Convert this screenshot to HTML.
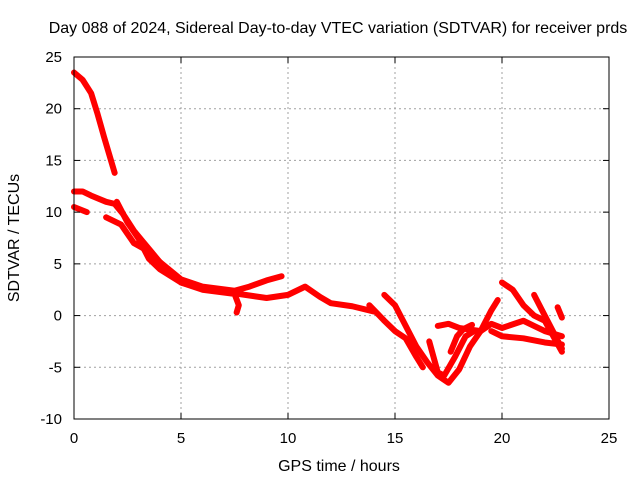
<!DOCTYPE html>
<html><head><meta charset="utf-8"><style>
body{margin:0;background:#fff;}
svg{display:block;font-family:"Liberation Sans",sans-serif;}
</style></head><body>
<svg id="chart" width="640" height="480">
<text x="338" y="33" font-size="16" text-anchor="middle">Day 088 of 2024, Sidereal Day-to-day VTEC variation (SDTVAR) for receiver prds</text>
<text x="339" y="471" font-size="16" text-anchor="middle">GPS time / hours</text>
<text transform="translate(19,238) rotate(-90)" font-size="16" text-anchor="middle">SDTVAR / TECUs</text>
<g id="grid"></g>
<g id="series"></g>
<rect x="74" y="57" width="535" height="362" fill="none" stroke="#000" stroke-width="1"/>
<g id="ticks"></g>
</svg>
<script>
const xTicks=[0,5,10,15,20,25];
const yTicks=[25,20,15,10,5,0,-5,-10];
const s1=[[0,23.5],[0.4,22.8],[0.8,21.5],[1.1,19.5],[1.4,17.3],[1.7,15.2],[1.9,13.8]];
const s2=[[0,12],[0.4,12],[0.8,11.6],[1.5,11],[1.9,10.8],[2.3,9.8],[2.8,8.2],[3.2,7.2],[3.6,6.2],[4,5.2],[4.5,4.2],[5,3.2],[6,2.6],[7,2.3],[8,2],[9,1.7],[10,2],[10.8,2.8],[11.5,1.8],[12,1.2],[13,0.9],[14,0.4]];
const s3=[[0,10.5],[0.6,10]];
const s4=[[1.5,9.5],[2.2,8.8],[2.8,7],[3.5,6.2],[4,5.2],[5,3.5],[6,2.8],[7.5,2.4],[8.2,2.8],[9,3.4],[9.7,3.8]];
const s5=[[2,11],[2.5,9],[3,7.5],[3.5,5.5],[4,4.5],[5,3.2],[6,2.5],[7.5,2.1],[7.7,1],[7.6,0.3]];
const s6=[[14.5,2],[15,1],[15.5,-1],[16,-3],[16.5,-4.5],[17,-5.8],[17.5,-6.5],[18,-5.2],[18.5,-3],[19,-1.5],[19.5,0.5],[19.8,1.5]];
const s7=[[17,-1],[17.5,-0.8],[18,-1.2],[19,-1.5],[19.5,-0.8],[20,-1.2],[21,-0.5],[21.5,-1],[22,-1.5],[22.8,-2]];
const s8=[[20,3.2],[20.5,2.5],[21,1],[21.5,0],[22,-0.5],[22.8,-3.5]];
const s9=[[21.5,2],[22,0],[22.5,-2],[22.8,-3.2]];
const s10=[[22.6,0.8],[22.8,-0.2]];
const s11=[[19.5,-1.5],[20,-2],[21,-2.2],[22,-2.6],[22.8,-2.8]];
const s12=[[13.8,1],[14.5,-0.5],[15,-1.5],[15.5,-2.2],[16,-4],[16.3,-5]];
const s13=[[16.6,-2.5],[16.8,-4],[17,-5.5],[17.3,-5.8],[17.8,-4],[18.3,-2],[18.7,-1.5]];
const s14=[[17.6,-3.5],[17.9,-2],[18.2,-1.3],[18.6,-0.9]];
const allSeries=[s1,s2,s3,s4,s5,s6,s7,s8,s9,s10,s11,s12,s13,s14];
const X=t=>74+t*535/25, Y=v=>57+(25-v)*362/35;
const NS="http://www.w3.org/2000/svg";
const grid=document.getElementById('grid'),ticks=document.getElementById('ticks'),ser=document.getElementById('series');
function mk(tag,at,parent){const e=document.createElementNS(NS,tag);for(const k in at)e.setAttribute(k,at[k]);parent.appendChild(e);return e;}
xTicks.forEach(t=>{
 if(t>0&&t<25){const g=mk('line',{x1:X(t),x2:X(t),y1:57,y2:419,stroke:'#a0a0a0','stroke-dasharray':'2,3'},grid);
 
 }
 const tk=mk('line',{x1:X(t),x2:X(t),y1:419,y2:413,stroke:'#000'},ticks);
 
 
 const tk2=mk('line',{x1:X(t),x2:X(t),y1:57,y2:63,stroke:'#000'},ticks);
 
 
 const l=mk('text',{x:X(t),y:443,'font-size':15,'text-anchor':'middle'},ticks);l.textContent=t;
 
 
});
yTicks.forEach(v=>{
 if(v>-10&&v<25){const g=mk('line',{x1:74,x2:609,y1:Y(v),y2:Y(v),stroke:'#a0a0a0','stroke-dasharray':'2,3'},grid);
 
 }
 const tk=mk('line',{x1:74,x2:80,y1:Y(v),y2:Y(v),stroke:'#000'},ticks);
 
 
 const tk2=mk('line',{x1:603,x2:609,y1:Y(v),y2:Y(v),stroke:'#000'},ticks);
 
 
 const l=mk('text',{x:62,y:Y(v)+5,'font-size':15,'text-anchor':'end'},ticks);l.textContent=v;
 
 
});
allSeries.forEach(s=>{
 const p=mk('polyline',{points:s.map(d=>X(d[0])+','+Y(d[1])).join(' '),fill:'none',stroke:'#ff0000','stroke-width':6,'stroke-linejoin':'round','stroke-linecap':'round'},ser);
 
 
});
</script>
</body></html>
